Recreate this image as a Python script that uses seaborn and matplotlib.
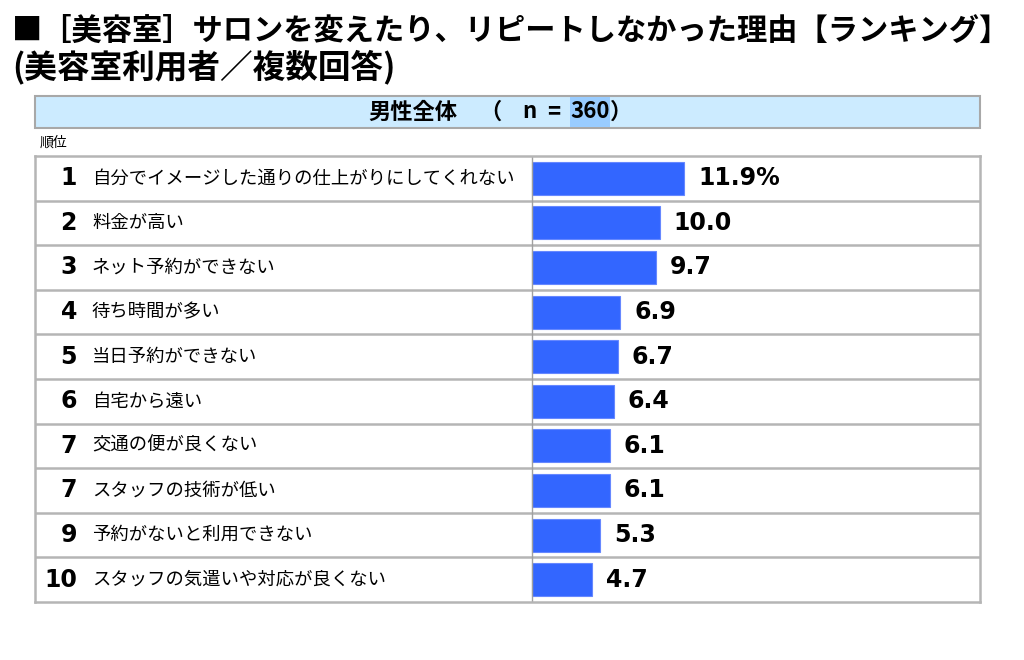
import pandas as pd
import matplotlib
matplotlib.use("Agg")
from matplotlib import pyplot as plt
from matplotlib.patches import Rectangle
import seaborn as sns

sns.set_style("white")
plt.rcParams['font.family'] = ['Noto Sans CJK JP', 'DejaVu Sans']
plt.rcParams['text.color'] = 'black'

# data
ranks = ["1", "2", "3", "4", "5", "6", "7", "7", "9", "10"]
reasons = [
    "自分でイメージした通りの仕上がりにしてくれない",
    "料金が高い",
    "ネット予約ができない",
    "待ち時間が多い",
    "当日予約ができない",
    "自宅から遠い",
    "交通の便が良くない",
    "スタッフの技術が低い",
    "予約がないと利用できない",
    "スタッフの気遣いや対応が良くない",
]
values = [11.9, 10.0, 9.7, 6.9, 6.7, 6.4, 6.1, 6.1, 5.3, 4.7]
value_labels = ["11.9%", "10.0", "9.7", "6.9", "6.7", "6.4", "6.1", "6.1", "5.3", "4.7"]

df = pd.DataFrame({"reason": reasons, "value": values})

W, H = 1024, 660
fig = plt.figure(figsize=(W / 100, H / 100), dpi=100)

# title
fig.text(12 / W, 1 - 31 / H, "■［美容室］サロンを変えたり、リピートしなかった理由【ランキング】",
         fontsize=21.8, fontweight='bold', va='center', ha='left')
fig.text(12 / W, 1 - 67 / H, "(美容室利用者／複数回答)",
         fontsize=23.5, fontweight='bold', va='center', ha='left')

# header box
fig.patches.append(Rectangle((35 / W, 1 - 128 / H), 945 / W, 32 / H, transform=fig.transFigure,
                             facecolor='#CCEBFF', edgecolor='#A8A8A8', lw=1.5))
hy = 1 - 112 / H
hkw = dict(fontsize=16, fontweight='bold', va='center')
fig.text(457 / W, hy, "男性全体", ha='right', **hkw)
fig.text(502 / W, hy, "（", ha='right', **hkw)
fig.text(529 / W, hy, "n", ha='center', **hkw)
fig.text(554 / W, hy, "=", ha='center', **hkw)
t2 = fig.text(570 / W, hy, "360", ha='left', zorder=3, **hkw)
fig.canvas.draw()
bb = t2.get_window_extent()
fig.patches.append(Rectangle((bb.x0 / W, 1 - 127 / H), bb.width / W, 30 / H, transform=fig.transFigure,
                             facecolor='#99CCFF', edgecolor='none', zorder=2))
fig.text(bb.x1 / W, hy, "）", ha='left', **hkw)

fig.text(40 / W, 1 - 143 / H, "順位", fontsize=10, ha='left', va='center')

# table + bars
ax = fig.add_axes([35 / W, 1 - 602 / H, 945 / W, 446 / H])
sns.barplot(data=df, x="value", y="reason", orient='h', color='#3366FF', width=0.74,
            saturation=1, edgecolor='#6688FF', linewidth=0.8, ax=ax)
ax.set_xlim(-38.9, 35.05)
ax.set_ylim(9.5, -0.5)
ax.set_xticks([])
ax.set_yticks([])
ax.set_xlabel("")
ax.set_ylabel("")
for s in ax.spines.values():
    s.set_color('#B5B5B5')
    s.set_linewidth(1.8)
for i in range(9):
    ax.axhline(i + 0.5, color='#B5B5B5', lw=1.8)
ax.axvline(0, color='#A0A0A0', lw=1)

for i, (r, name, v, lab) in enumerate(zip(ranks, reasons, values, value_labels)):
    ax.text(0.0444, i, r, transform=ax.get_yaxis_transform(), ha='right', va='center',
            fontsize=17, fontweight='bold', family='DejaVu Sans')
    ax.text(0.0603, i, name, transform=ax.get_yaxis_transform(), ha='left', va='center',
            fontsize=13.2)
    ax.annotate(lab, (v, i), xytext=(10, 0), textcoords='offset points', ha='left', va='center',
                fontsize=17, fontweight='bold', family='DejaVu Sans')

fig.savefig("out.png", dpi=100)
